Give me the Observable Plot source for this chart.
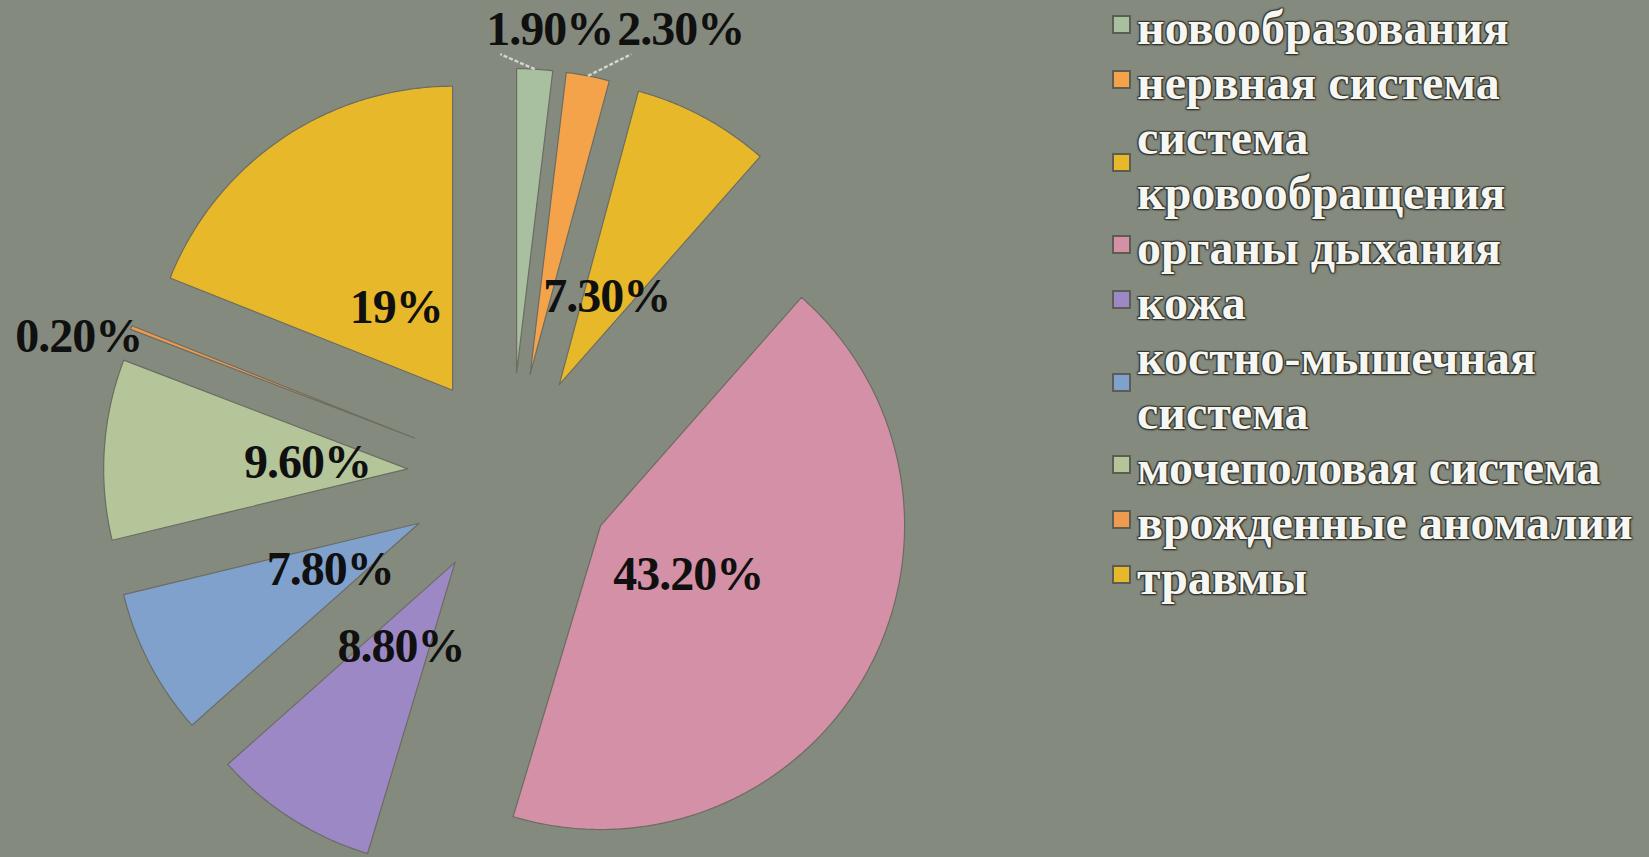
<!DOCTYPE html>
<html>
<head>
<meta charset="utf-8">
<script src="https://cdn.jsdelivr.net/npm/d3@7"></script>
<script src="https://cdn.jsdelivr.net/npm/@observablehq/plot@0.6"></script>
<style>
  html, body { margin: 0; padding: 0; background: #858a7e; width: 1649px; height: 857px; overflow: hidden; }
  #wrap { position: relative; width: 1649px; height: 857px; }
  #chart text { letter-spacing: -1px; }
  #legend { position: absolute; left: 1112px; top: 0px; width: 537px;
            font-family: "Liberation Serif", serif; font-weight: bold; font-size: 48px; line-height: 55px; color: #f6f6f2; }
  .item { display: flex; align-items: center; }
  .sw { width: 15px; height: 15px; border: 2px solid #5b5d53; box-sizing: content-box; flex: none; margin-right: 6px; position: relative; top: -3px; }
  .tx { max-width: 512px; text-shadow: 0 0 2px #303129, 1px 1px 2px #303129, -1px -1px 1px #3c3d35, 1px -1px 1px #3c3d35, -1px 1px 1px #3c3d35; }
</style>
</head>
<body>
<div id="wrap">
  <div id="chart"></div>
  <div id="legend"></div>
</div>
<script>
// ---- data ----
const categories = ["новообразования", "нервная система", "система кровообращения", "органы дыхания", "кожа",
                    "костно-мышечная система", "мочеполовая система", "врожденные аномалии", "травмы"];
const values = [1.9, 2.3, 7.3, 43.2, 8.8, 7.8, 9.6, 0.2, 19];
const valueLabels = ["1.90%", "2.30%", "7.30%", "43.20%", "8.80%", "7.80%", "9.60%", "0.20%", "19%"];
const palette = ["#a9c0a0", "#f4a34a", "#e8b82b", "#d490a6", "#9d88c6", "#80a1cc", "#b5c59a", "#ef9a4e", "#e8b82b"];

// ---- layout constants ----
const W = 1649, H = 857;
const CX = 510, CY = 475, R = 304;       // pie centre and radius in pixels
const EXPLODE = 0.339;                   // explosion, fraction of radius
const LABEL_IN = 0.33;                   // inside label distance from slice apex
const FONT = "48px 'Liberation Serif'";

const rows = categories.map((c, i) => ({cat: c, value: values[i], label: valueLabels[i]}));
const arcs = d3.pie().sort(null).value(d => d.value)(rows);

// slice polygons (unit = radius)
const pts = [];
for (const a of arcs) {
  const cat = a.data.cat;
  const mid = (a.startAngle + a.endAngle) / 2;
  const ox = EXPLODE * Math.sin(mid), oy = EXPLODE * Math.cos(mid);
  pts.push({cat, x: ox, y: oy});
  const n = Math.max(2, Math.ceil((a.endAngle - a.startAngle) / 0.01));
  for (let k = 0; k <= n; k++) {
    const t = a.startAngle + (a.endAngle - a.startAngle) * k / n;
    pts.push({cat, x: ox + Math.sin(t), y: oy + Math.cos(t)});
  }
  pts.push({cat, x: ox, y: oy});
}

// text measuring
const ctx = document.createElement("canvas").getContext("2d");
ctx.font = "bold " + FONT;
const textW = s => ctx.measureText(s).width - s.length * 1;

// labels
const inside = [], outsideTop = [], outsideSide = [], leaders = [];
for (const a of arcs) {
  const mid = (a.startAngle + a.endAngle) / 2;
  const sx = Math.sin(mid), sy = Math.cos(mid);
  if (a.data.value >= 3) {
    const r = EXPLODE + LABEL_IN;
    inside.push({x: r * sx, y: r * sy, label: a.data.label});
  } else {
    const r = EXPLODE + 1;
    const ox = r * sx, oy = r * sy;
    const w = textW(a.data.label) / R;
    if (Math.abs(sx) < 0.5) {
      outsideTop.push({ox, oy, x: ox + 15 / R, y: oy + 40 / R, w, label: a.data.label});
    } else {
      outsideSide.push({x: ox + (sx < 0 ? -w / 2 + 11 / R : w / 2 - 11 / R), y: oy - 9 / R, label: a.data.label});
    }
  }
}
// top labels share one row, dodged horizontally
outsideTop.sort((p, q) => p.x - q.x);
const topY = d3.max(outsideTop, p => p.y);
for (const p of outsideTop) p.y = topY;
for (let i = 1; i < outsideTop.length; i++) {
  const p = outsideTop[i - 1], q = outsideTop[i];
  const minX = p.x + p.w / 2 + 4 / R + q.w / 2;
  if (q.x < minX) q.x = minX;
}
for (const p of outsideTop) {
  leaders.push({x1: p.ox, y1: p.oy, x2: p.x - p.w / 2 + 14 / R, y2: p.y - 25 / R});
}
const allLabels = inside.concat(outsideTop, outsideSide);

const plot = Plot.plot({
  width: W, height: H,
  margin: 0,
  x: {domain: [-CX / R, (W - CX) / R], axis: null},
  y: {domain: [(CY - H) / R, CY / R], axis: null},
  color: {domain: categories, range: palette},
  style: {background: "transparent", overflow: "visible"},
  marks: [
    Plot.line(pts, {x: "x", y: "y", z: "cat", fill: "cat", stroke: "#6b6c62", strokeWidth: 1.2, curve: "linear", strokeLinejoin: "round"}),
    Plot.link(leaders, {x1: "x1", y1: "y1", x2: "x2", y2: "y2", stroke: "#d4d5cc", strokeWidth: 2.4, strokeDasharray: "4 2"}),
    Plot.text(allLabels, {x: "x", y: "y", text: "label", fontFamily: "Liberation Serif", fontWeight: "bold",
                          fontSize: 48, fill: "#101010"})
  ]
});
document.getElementById("chart").appendChild(plot);

// legend
const legend = d3.select("#legend");
categories.forEach((c, i) => {
  const it = legend.append("div").attr("class", "item");
  it.append("div").attr("class", "sw").style("background", palette[i]);
  it.append("div").attr("class", "tx").text(c);
});
</script>
</body>
</html>
